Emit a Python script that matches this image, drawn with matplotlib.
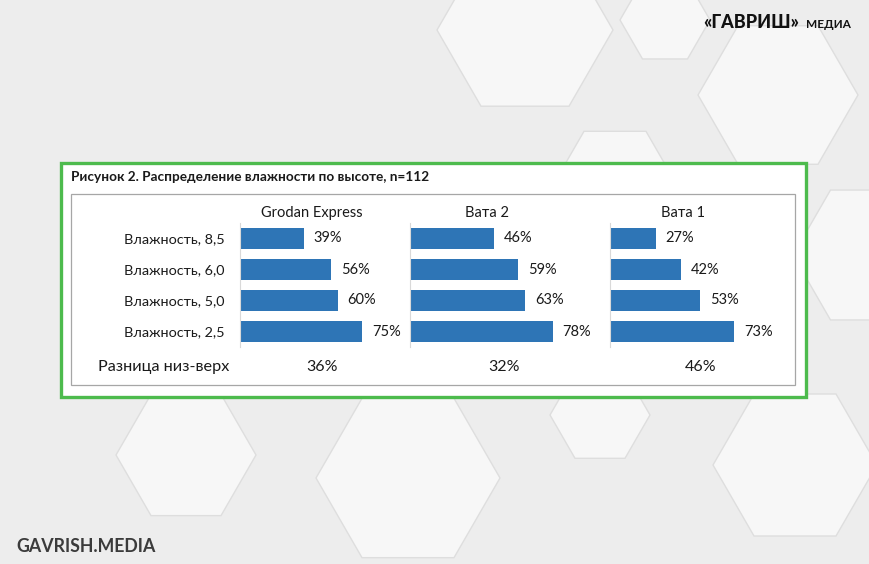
import numpy as np
import matplotlib as mpl
mpl.use('Agg')
import matplotlib.pyplot as plt
from matplotlib.patches import Rectangle, RegularPolygon

# canvas size in pixels (dpi 100)
W, H = 870, 564

# data
categories = ["Влажность, 8,5", "Влажность, 6,0", "Влажность, 5,0", "Влажность, 2,5"]
panel_names = ["Grodan Express", "Вата 2", "Вата 1"]
grodan = [39, 56, 60, 75]
vata2 = [46, 59, 63, 78]
vata1 = [27, 42, 53, 73]
diff_label = "Разница низ-верх"
diffs = [36, 32, 46]
title = "Рисунок 2. Распределение влажности по высоте, n=112"

plt.rcParams['font.family'] = ['Lato', 'DejaVu Sans']

BLUE = '#2e75b6'
TXT = '#1a1a1a'

fig = plt.figure(figsize=(W / 100, H / 100), dpi=100)

# background with hexagons (pixel coordinates)
bg = fig.add_axes([0, 0, 1, 1])
bg.set_xlim(0, W)
bg.set_ylim(H, 0)
bg.axis('off')
bg.add_patch(Rectangle((0, 0), W, H, color='#ededed', zorder=0))
hexes = [(525, 30, 88), (778, 95, 80), (615, 185, 62), (868, 255, 75),
         (186, 455, 70), (408, 478, 92), (795, 465, 82), (600, 415, 50),
         (665, 20, 45)]
for cx, cy, r in hexes:
    bg.add_patch(RegularPolygon((cx, cy), numVertices=6, radius=r,
                                orientation=np.pi / 6, facecolor='#f7f7f7',
                                edgecolor='#dedede', linewidth=1.0, zorder=1))

# white card with green border and inner grey frame
bg.add_patch(Rectangle((61, 163), 745, 234, facecolor='white',
                       edgecolor='#4dbb4d', linewidth=2.4, zorder=2))
bg.add_patch(Rectangle((71, 194), 724, 191, facecolor='white',
                       edgecolor='#a6a6a6', linewidth=0.9, zorder=3))
bg.text(71, 177, title, fontsize=9.8, fontweight='bold', color=TXT,
        va='center', ha='left', zorder=4)

# logos
bg.text(703, 22, "«ГАВРИШ»", fontsize=13, fontweight='black', color='#111111',
        va='center', ha='left', zorder=4)
bg.text(806, 24, "МЕДИА", fontsize=8.5, fontweight='bold', color='#111111',
        va='center', ha='left', zorder=4)
bg.text(16, 546, "GAVRISH.MEDIA", fontsize=12.8, fontweight='bold', color='#3b3b3b',
        va='center', ha='left', zorder=4)


def px_axes(x0, y0, x1, y1):
    return fig.add_axes([x0 / W, 1 - y1 / H, (x1 - x0) / W, (y1 - y0) / H])


# panel layout in pixels
panel_boxes = [(240, 223, 403, 347), (410, 223, 593, 347), (610, 223, 780, 347)]
title_x = [312, 487, 683]
diff_x = [322, 504, 701]
series = [grodan, vata2, vata1]

for k, (box, vals) in enumerate(zip(panel_boxes, series)):
    ax = px_axes(*box)
    ax.patch.set_alpha(0)
    y = np.arange(len(categories))
    ax.barh(y, vals, height=0.65, color=BLUE)
    ax.set_xlim(0, 100)
    ax.set_ylim(len(categories) - 0.5, -0.5)
    for s in ['top', 'right', 'bottom']:
        ax.spines[s].set_visible(False)
    ax.spines['left'].set_color('#d9d9d9')
    ax.spines['left'].set_linewidth(0.8)
    ax.set_xticks([])
    ax.tick_params(axis='y', length=0, pad=11, labelsize=10.4, labelcolor=TXT)
    if k == 0:
        ax.set_yticks(y)
        ax.set_yticklabels(categories)
    else:
        ax.set_yticks([])
    for i, v in enumerate(vals):
        ax.annotate(f"{v}%", (v, i), xytext=(7, 0), textcoords='offset points',
                    va='center', ha='left', fontsize=10.5, color=TXT)
    bg.text(title_x[k], 213, panel_names[k], fontsize=10.5, color=TXT,
            ha='center', va='center', zorder=4)
    bg.text(diff_x[k], 367, f"{diffs[k]}%", fontsize=11.5, color=TXT,
            ha='center', va='center', zorder=4)

bg.text(98, 367, diff_label, fontsize=11.7, color=TXT, ha='left', va='center', zorder=4)

fig.savefig('out.png', dpi=100)
